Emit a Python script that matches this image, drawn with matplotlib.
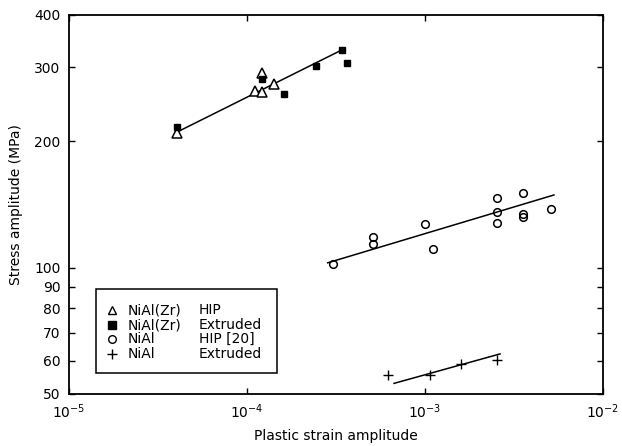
import numpy as np
import matplotlib
matplotlib.use("Agg")
import matplotlib.pyplot as plt
from matplotlib.patches import Rectangle
from matplotlib.ticker import FixedLocator, NullLocator, NullFormatter

# NiAl(Zr) HIP (open triangles)
zr_hip_x = [4.04e-5, 1.11e-4, 1.21e-4, 1.21e-4, 1.42e-4]
zr_hip_y = [209, 264, 262, 291, 274]

# NiAl(Zr) Extruded (filled squares)
zr_ext_x = [4.04e-5, 1.21e-4, 1.61e-4, 2.44e-4, 3.43e-4, 3.65e-4]
zr_ext_y = [216, 281, 259, 303, 330, 307]

# NiAl HIP [20] (open circles)
nial_hip_x = [3.04e-4, 5.1e-4, 5.1e-4, 1.0e-3, 1.11e-3, 2.54e-3, 2.54e-3,
              2.54e-3, 3.55e-3, 3.55e-3, 3.55e-3, 5.1e-3]
nial_hip_y = [102, 118, 114, 127, 110.6, 146.5, 135.7, 127.5, 151, 134,
              132, 138]

# NiAl Extruded (plus)
nial_ext_x = [6.2e-4, 1.07e-3, 1.59e-3, 2.55e-3]
nial_ext_y = [55.4, 55.4, 59, 60.3]

# fitted lines (end points)
zr_fit_x = [4.1e-5, 3.45e-4]
zr_fit_y = [211, 331]
hip_fit_x = [2.84e-4, 5.3e-3]
hip_fit_y = [102.7, 149]
ext_fit_x = [6.7e-4, 2.64e-3]
ext_fit_y = [53, 62.3]

y_ticks = [50, 60, 70, 80, 90, 100, 200, 300, 400]

legend_rows = [("^", "none", "NiAl(Zr)", "HIP"),
               ("s", "k", "NiAl(Zr)", "Extruded"),
               ("o", "none", "NiAl", "HIP [20]"),
               ("+", "k", "NiAl", "Extruded")]

plt.rcParams["font.family"] = "DejaVu Sans"
plt.rcParams["font.size"] = 10

fig = plt.figure(figsize=(6.22, 4.46), dpi=100)
ax = fig.add_axes([0.1109, 0.1166, 0.9695 - 0.1109, 0.9664 - 0.1166])

ax.plot(zr_fit_x, zr_fit_y, color="k", lw=1.1)
ax.plot(hip_fit_x, hip_fit_y, color="k", lw=1.1)
ax.plot(ext_fit_x, ext_fit_y, color="k", lw=1.1)

ax.plot(zr_hip_x, zr_hip_y, ls="none", marker="^", ms=7, mfc="white",
        mec="k", mew=1.1)
ax.plot(zr_ext_x, zr_ext_y, ls="none", marker="s", ms=4.5, mfc="k",
        mec="k")
ax.plot(nial_hip_x, nial_hip_y, ls="none", marker="o", ms=5.5, mfc="none",
        mec="k", mew=1.1)
ax.plot(nial_ext_x, nial_ext_y, ls="none", marker="+", ms=7, mec="k",
        mew=1.0)

ax.set_xscale("log")
ax.set_yscale("log")
ax.set_xlim(1e-5, 1e-2)
ax.set_ylim(50, 400)

ax.yaxis.set_major_locator(FixedLocator(y_ticks))
ax.set_yticklabels([str(v) for v in y_ticks])
ax.yaxis.set_minor_locator(NullLocator())
ax.yaxis.set_minor_formatter(NullFormatter())
ax.xaxis.set_minor_locator(NullLocator())

ax.tick_params(which="both", direction="in", length=4, width=1,
               top=True, right=True, labelsize=10, pad=6)
for s in ax.spines.values():
    s.set_linewidth(1.3)

ax.set_xlabel("Plastic strain amplitude", labelpad=6)
ax.set_ylabel("Stress amplitude (MPa)", labelpad=8)

# legend box drawn by hand to keep two aligned text columns
ax.add_patch(Rectangle((0.0506, 0.0554), 0.3389, 0.2216,
                       transform=ax.transAxes, fill=False, lw=1.1,
                       ec="k", zorder=5))
row_y = [0.2216, 0.1812, 0.1443, 0.1047]
for (mk, fc, name, proc), yy in zip(legend_rows, row_y):
    ax.plot([0.0799], [yy], transform=ax.transAxes, ls="none", marker=mk,
            ms=5.5 if mk != "+" else 6.5, mfc=fc, mec="k", mew=1.0)
    ax.text(0.1105, yy, name, transform=ax.transAxes, va="center",
            ha="left", fontsize=10)
    ax.text(0.2434, yy, proc, transform=ax.transAxes, va="center",
            ha="left", fontsize=10)

fig.savefig("out.png", dpi=100)
